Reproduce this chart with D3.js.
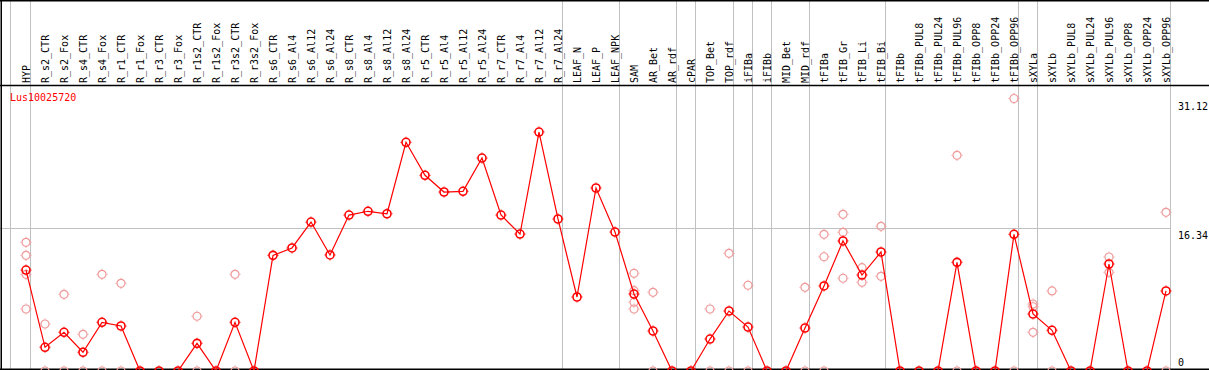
<!DOCTYPE html>
<meta charset="utf-8">
<style>
body { margin: 0; background: #fff; }
text { font-family: "DejaVu Sans Mono", monospace; font-size: 10px; }
.grid line { stroke: #c0c0c0; stroke-width: 1; }
.frame line { stroke: #000; stroke-width: 1.5; }
</style>
<svg width="1209" height="370"></svg>
<script src="https://d3js.org/d3.v7.min.js"></script>
<script>
// gene shown
var geneId = "Lus10025720";

// sample names along the top
var categories = ["HYP", "R_s2_CTR", "R_s2_Fox", "R_s4_CTR", "R_s4_Fox", "R_r1_CTR", "R_r1_Fox",
  "R_r3_CTR", "R_r3_Fox", "R_r1s2_CTR", "R_r1s2_Fox", "R_r3s2_CTR", "R_r3s2_Fox",
  "R_s6_CTR", "R_s6_Al4", "R_s6_Al12", "R_s6_Al24", "R_s8_CTR", "R_s8_Al4", "R_s8_Al12", "R_s8_Al24",
  "R_r5_CTR", "R_r5_Al4", "R_r5_Al12", "R_r5_Al24", "R_r7_CTR", "R_r7_Al4", "R_r7_Al12", "R_r7_Al24",
  "LEAF_N", "LEAF_P", "LEAF_NPK", "SAM", "AR_Bet", "AR_rdf", "cPAR", "TOP_Bet", "TOP_rdf",
  "iFIBa", "iFIBb", "MID_Bet", "MID_rdf", "tFIBa", "tFIB_Gr", "tFIB_Li", "tFIB_Bi",
  "tFIBb", "tFIBb_PUL8", "tFIBb_PUL24", "tFIBb_PUL96", "tFIBb_OPP8", "tFIBb_OPP24", "tFIBb_OPP96",
  "sXYLa", "sXYLb", "sXYLb_PUL8", "sXYLb_PUL24", "sXYLb_PUL96", "sXYLb_OPP8", "sXYLb_OPP24", "sXYLb_OPP96"];

// mean expression per sample
var means = [11.53, 2.71, 4.42, 2.14, 5.56, 5.14, 0, 0, 0, 3.16, 0, 5.56, 0,
  13.21, 14.05, 17.01, 13.25, 17.81, 18.24, 17.96, 26.12,
  22.35, 20.44, 20.52, 24.32, 17.81, 15.64, 27.29, 17.36,
  8.45, 20.9, 15.87, 8.79, 4.57, 0, 0, 3.65, 6.85,
  5.02, 0, 0, 4.91, 9.71, 14.85, 10.96, 13.59,
  0, 0, 0, 12.41, 0, 0, 15.61,
  6.51, 4.65, 0, 0, 12.22, 0, 0, 9.14];

// replicate values per sample (empty = single value)
var replicates = [[14.70, 13.21, 11.04, 7.08], [5.37, 0], [8.76, 0], [4.19, 0], [11.04, 0], [10.01, 0], [], [], [], [6.25, 0], [], [11.04, 0], [],
  [], [], [], [], [], [], [], [],
  [], [], [], [], [], [], [], [],
  [], [], [], [11.16, 9.17, 7.85, 7.08], [8.99, 0], [], [], [7.08, 0], [13.44, 0],
  [9.79, 0], [], [], [9.56, 0], [15.61, 13.05, 0], [17.89, 15.84, 10.59], [11.80, 10.13], [16.52, 10.81],
  [], [], [], [24.63, 0], [], [], [31.12, 0],
  [7.65, 7.34, 4.42], [9.14, 0], [], [], [13.02, 11.27], [], [], [18.12, 0]];

// groups end after these samples (vertical separators)
var groupEnds = ["HYP", "R_r7_Al24", "LEAF_NPK", "AR_rdf", "cPAR", "TOP_rdf", "iFIBa", "iFIBb",
  "MID_rdf", "tFIB_Bi", "tFIBb_OPP96", "sXYLa", "sXYLb_OPP96"];

// y labels on the right
var yTicks = [31.12, 16.34, 0];

var svg = d3.select("svg"),
    width = +svg.attr("width"),
    height = +svg.attr("height");

var x = d3.scalePoint().domain(categories).range([26, 1166]);
var y = d3.scaleLinear().domain([0, 31.12]).range([371, 98.5]);

// grid
var grid = svg.append("g").attr("class", "grid");
grid.append("line")
    .attr("x1", x(categories[0]) - 15.5).attr("x2", x(categories[0]) - 15.5)
    .attr("y1", 0).attr("y2", height);
grid.selectAll("line.v")
  .data(groupEnds)
  .enter().append("line")
    .attr("class", "v")
    .attr("x1", function(d) { return x(d) + 4.5; })
    .attr("x2", function(d) { return x(d) + 4.5; })
    .attr("y1", 0).attr("y2", height);
grid.append("line")
    .attr("x1", 0).attr("x2", x("sXYLb_OPP96") + 4.5)
    .attr("y1", Math.round(y(16.34)) + 0.5).attr("y2", Math.round(y(16.34)) + 0.5);

// frame
var frame = svg.append("g").attr("class", "frame");
frame.append("line").attr("x1", 0).attr("x2", width).attr("y1", 0.75).attr("y2", 0.75);
frame.append("line").attr("x1", 0).attr("x2", width).attr("y1", 85.5).attr("y2", 85.5);
frame.append("line").attr("x1", 0).attr("x2", width).attr("y1", 369.25).attr("y2", 369.25);
frame.append("line").attr("x1", 1.25).attr("x2", 1.25).attr("y1", 0).attr("y2", height);

// sample labels
svg.append("g")
  .selectAll("text")
  .data(categories)
  .enter().append("text")
    .attr("transform", function(d) { return "translate(" + (x(d) + 0.5) + ",83) rotate(-90)"; })
    .attr("dy", "0.35em")
    .attr("fill", "#000")
    .text(function(d) { return d; });

// y labels
svg.append("g")
  .selectAll("text")
  .data(yTicks)
  .enter().append("text")
    .attr("x", 1178)
    .attr("y", function(d) { return d === 0 ? 366 : y(d) + 11; })
    .attr("fill", "#000")
    .text(function(d) { return d === 0 ? "0" : d.toFixed(2); });

svg.append("text")
    .attr("x", 10).attr("y", 101)
    .attr("fill", "#ff0000")
    .text(geneId);

function marker(sel, color, w) {
  sel.append("circle").attr("r", 4).attr("fill", "none")
      .attr("stroke", color).attr("stroke-width", w);
  sel.append("path").attr("d", "M0,-5.5V-4.5M0,4.5V5.5M-5.5,0H-4.5M4.5,0H5.5")
      .attr("stroke", color).attr("stroke-width", 1);
}

// replicate points
var repPts = [];
categories.forEach(function(c, i) {
  replicates[i].forEach(function(v) { repPts.push({ c: c, v: v }); });
});
svg.append("g")
  .selectAll("g")
  .data(repPts)
  .enter().append("g")
    .attr("transform", function(d) { return "translate(" + x(d.c) + "," + y(d.v) + ")"; })
    .call(marker, "#ef9a9a", 1.2);

// mean line
var pts = categories.map(function(c, i) { return { c: c, v: means[i] }; });
svg.append("path")
    .datum(pts)
    .attr("fill", "none")
    .attr("stroke", "#ff0000")
    .attr("stroke-width", 1.2)
    .attr("d", d3.line().x(function(d) { return x(d.c); }).y(function(d) { return y(d.v); }));

svg.append("g")
  .selectAll("g")
  .data(pts)
  .enter().append("g")
    .attr("transform", function(d) { return "translate(" + x(d.c) + "," + y(d.v) + ")"; })
    .call(marker, "#ff0000", 1.6);
</script>
